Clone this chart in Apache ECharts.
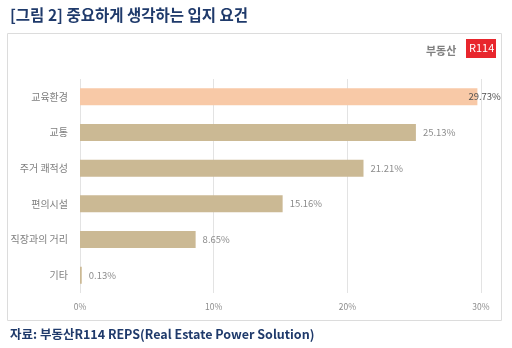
<!DOCTYPE html>
<html><head><meta charset="utf-8">
<script src="https://cdn.jsdelivr.net/npm/echarts@6/dist/echarts.min.js"></script>
<style>html,body{margin:0;padding:0;background:#fff}#c{width:512px;height:348px}</style>
</head><body><div id="c"></div>
<script>
const categories = ['교육환경','교통','주거 쾌적성','편의시설','직장과의 거리','기타'];
const values = [29.73, 25.13, 21.21, 15.16, 8.65, 0.13];
const xTicks = [0, 10, 20, 30];
const titleText = '[그림 2] 중요하게 생각하는 입지 요건';
const sourceText = '자료: 부동산R114 REPS(Real Estate Power Solution)';

const FONT = '"Noto Sans CJK KR","Noto Sans",sans-serif';
const chart = echarts.init(document.getElementById('c'));
const data = values.map((v, i) => ({
  value: v,
  itemStyle: { color: i === 0 ? '#f8c9a7' : '#cbb994' },
  label: i === 0 ? { color: '#505050', offset: [-16, 0] } : {}
}));
chart.setOption({
  animation: false,
  textStyle: { fontFamily: FONT },
  title: [
    { text: titleText, left: 5, top: 2, textStyle: { fontSize: 15.5, fontWeight: 'bold', color: '#1f3a6b', fontFamily: FONT } },
    { text: sourceText, left: 5, top: 323, textStyle: { fontSize: 12.5, fontWeight: 'bold', color: '#1f3a6b', fontFamily: FONT } }
  ],
  graphic: [
    { type: 'rect', shape: { x: 7.5, y: 33.5, width: 494, height: 287 }, style: { fill: 'none', stroke: '#dcdcdc', lineWidth: 1 }, z: -1 },
    { type: 'text', left: 426, top: 45, style: { text: '부동산', fill: '#808080', font: 'bold 11px ' + FONT } },
    { type: 'rect', shape: { x: 466, y: 39, width: 30, height: 19 }, style: { fill: '#e8262d' } },
    { type: 'text', left: 469, top: 42, style: { text: 'R114', fill: '#fff', font: '11px ' + FONT } }
  ],
  grid: { left: 80, right: 31, top: 79, bottom: 55 },
  xAxis: {
    type: 'value', min: 0, max: 30, interval: 10,
    axisLine: { show: false }, axisTick: { show: false },
    splitLine: { lineStyle: { color: '#e3e3e3' } },
    axisLabel: { formatter: v => xTicks.includes(v) ? v + '%' : '', color: '#8c8c8c', fontSize: 8.5, margin: 10 }
  },
  yAxis: {
    type: 'category', data: categories, inverse: true,
    axisLine: { show: false }, axisTick: { show: false },
    axisLabel: { color: '#808080', fontSize: 10, margin: 12 }
  },
  series: [{
    type: 'bar', data: data, barWidth: 17,
    label: { show: true, position: 'right', distance: 7, formatter: p => p.value.toFixed(2) + '%', color: '#8c8c8c', fontSize: 9.5 }
  }]
});
</script></body></html>
